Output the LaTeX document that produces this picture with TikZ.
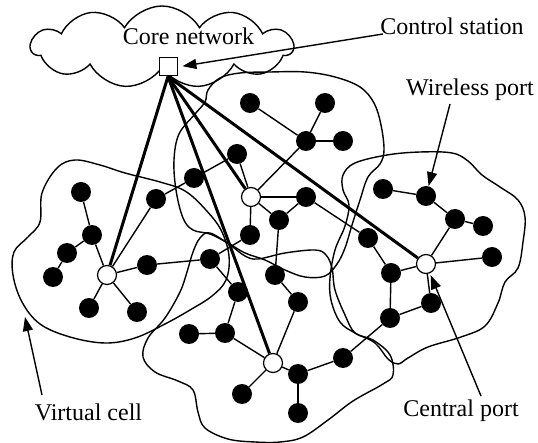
\documentclass[tikz,border=0pt]{standalone}
\usepackage{fontspec}
\setmainfont{Liberation Serif}
\usetikzlibrary{shapes.symbols,arrows.meta}
\begin{document}
\begin{tikzpicture}[x=1pt,y=-1pt,
  bnode/.style={circle, fill=black, inner sep=0pt, minimum size=20pt},
  wnode/.style={circle, draw, fill=white, line width=1.2pt, inner sep=0pt, minimum size=19pt},
  link/.style={line width=1.4pt},
  trunk/.style={line width=3pt},
  cellline/.style={line width=1.4pt},
  lbl/.style={font=\fontsize{24}{28}\selectfont, inner sep=0pt, anchor=base},
  ptr/.style={line width=1.4pt, -{Triangle[length=14pt,width=10pt]}}
]
\useasboundingbox (0,0) rectangle (538,443);

% cloud
\node[cloud, draw, line width=1.4pt, cloud puffs=11, cloud puff arc=120, cloud ignores aspect,
      minimum width=262pt, minimum height=82pt, inner sep=0pt] (cloud) at (162,47) {};
\node[lbl] (core) at (188.5,45) {Core network};

% cells
\draw[cellline] plot[smooth cycle, tension=0.6] coordinates {
 (42,193) (57,168) (75,160) (100,165) (125,173) (160,182) (185,191) (205,209)
 (221,230) (229,256) (226,280) (212,296) (190,310) (165,324) (135,338) (105,343)
 (70,337) (40,324) (22,302) (13,275) (14,252) (28,237) (40,222)};
\draw[cellline] plot[smooth cycle, tension=0.6] coordinates {
 (208,90) (220,78) (240,73) (270,72) (305,72) (335,77) (360,87) (374,103)
 (381,125) (384,150) (380,164) (368,177) (360,200) (352,225) (345,248) (337,264)
 (325,276) (305,277) (285,270) (265,260) (245,253) (228,243) (210,234) (193,230)
 (183,218) (176,190) (174,160) (179,134) (195,114) (205,102)};
\draw[cellline] plot[smooth cycle, tension=0.6] coordinates {
 (343,175) (355,163) (387,155) (420,152) (452,153) (468,161) (482,175) (500,187)
 (518,200) (525,217) (523,242) (518,268) (505,282) (498,303) (485,326) (461,337)
 (428,347) (408,358) (398,364) (388,359) (375,343) (355,333) (340,322) (331,300)
 (330,278) (335,250) (345,226) (349,205) (343,190)};
\draw[cellline] plot[smooth cycle, tension=0.6] coordinates {
 (210,233) (200,238) (193,252) (187,272) (180,292) (165,318) (148,338) (143,357)
 (155,372) (178,381) (193,390) (198,412) (205,428) (228,439) (255,442) (280,442)
 (303,437) (328,420) (353,401) (383,384) (393,375) (390,355) (373,340) (355,333)
 (345,315) (335,290) (332,268) (326,255) (315,250) (285,253) (258,259) (245,256)
 (230,245)};

% control station
\node[draw, line width=1pt, fill=white, minimum size=18pt, inner sep=0pt] (cs) at (168,67) {};

% central ports
\node[wnode] (P1) at (107,275) {};
\node[wnode] (P2) at (251,197) {};
\node[wnode] (P3) at (426,264) {};
\node[wnode] (P4) at (273,363) {};

% wireless ports
\foreach \n/\x/\y in {a1/81/192, a2/92/235, a3/67/253, a4/53/277, a5/147/265, a6/89/308, a7/137/312, a8/156/199,
  b1/250/103, b2/325/103, b3/306/141, b4/343/141, b5/237/154, b6/194/178, b7/306/197, b8/279/220, b9/250/235, b10/210/259,
  c1/383/189, c2/426/196, c3/455/219, c4/483/226, c5/492/257, c6/368/238, c7/391/273, c8/431/303, c9/390/318,
  d1/275/275, d2/298/302, d3/238/292, d4/225/333, d5/189/334, d6/242/394, d7/298/374, d8/298/413, d9/343/358}
  {\node[bnode] (\n) at (\x,\y) {};}

% links
\foreach \u/\v in {a1/a2, a2/a3, a3/a4, a2/P1, P1/a5, a5/b10, P1/a6, P1/a7, P1/a8, a8/b6, b6/b5, b5/P2,
  P2/b3, b1/b3, b2/b3, b3/b4, P2/b7, P2/b8, P2/b9, b9/b10, b7/b8, b7/c6, b10/d3, d3/d4, d4/d5, d4/P4,
  b8/d1, d1/d2, d2/P4, P4/d6, P4/d7, d7/d8, d7/d9, d9/c9, c9/c8, c8/P3, c9/c7, c7/P3, c7/c6,
  P3/c5, P3/c3, c3/c4, c3/c2, c2/c1}
  {\draw[link] (\u) -- (\v);}

% trunks
\foreach \p in {P1,P2,P3,P4} {\draw[trunk] (cs.south) -- (\p);}

% labels
\node[lbl] (ctl) at (452,35) {Control station};
\node[lbl] (wl) at (470,96) {Wireless port};
\node[lbl] (vc) at (88.5,420) {Virtual cell};
\node[lbl] (cp) at (461,417) {Central port};

\coordinate (ctlstart) at (383,34);
\coordinate (wlstart) at (450,104);
\coordinate (vcstart) at (42,395);
\coordinate (vctip) at (25,317);
\coordinate (cpstart) at (481,396);

\draw[ptr, shorten >=5pt] (ctlstart) -- (cs.east);
\draw[ptr] (wlstart) -- (c2);
\draw[ptr] (vcstart) -- (vctip);
\draw[ptr, shorten >=2pt] (cpstart) -- (P3);
\end{tikzpicture}
\end{document}
